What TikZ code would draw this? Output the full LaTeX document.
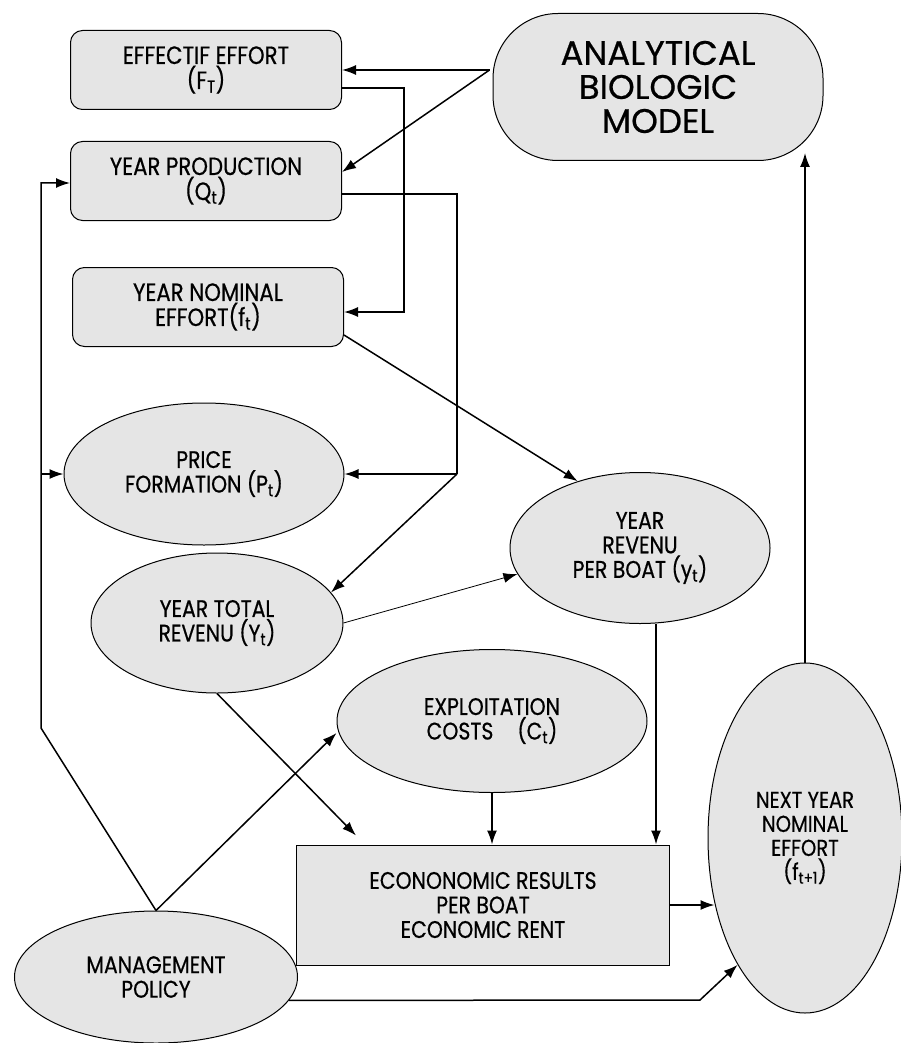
\documentclass[tikz,border=0pt]{standalone}
\usepackage{fontspec}
\setmainfont{Poppins}[FakeStretch=0.85, FakeBold=0.6]
\newfontfamily\modelfont{Poppins}[FakeBold=0.6]
\usetikzlibrary{shapes.geometric,arrows.meta}
\definecolor{boxgray}{gray}{0.9}
\tikzset{
  box/.style={draw, line width=1pt, fill=boxgray, rounded corners=12pt, align=center,
    inner sep=0pt, minimum width=271pt, minimum height=79pt, font=\fontsize{25}{25}\selectfont},
  oval/.style={draw, line width=1pt, fill=boxgray, ellipse, align=center, inner sep=0pt,
    font=\fontsize{24}{24.5}\selectfont},
  link/.style={line width=1.5pt, -{Latex[length=14pt,width=10pt]}},
  thinlink/.style={line width=0.8pt, -{Latex[length=14pt,width=10pt]}}
}
\begin{document}
\begin{tikzpicture}[x=1pt,y=-1pt]
  \useasboundingbox (0,0) rectangle (901,1043);
  % boxes on the left
  \node[box] (effort) at (206,70) {EFFECTIF EFFORT\\(F\textsubscript{T})};
  \node[box] (prod) at (206,181) {YEAR PRODUCTION\\(Q\textsubscript{t})};
  \node[box] (nominal) at (208,307) {YEAR NOMINAL\\EFFORT(f\textsubscript{t})};
  % model
  \node[draw, line width=1pt, fill=boxgray, rounded corners=65pt, minimum width=330pt,
    minimum height=147pt, inner sep=0pt, align=center, font=\modelfont\fontsize{34}{34}\selectfont]
    (model) at (658,87) {ANALYTICAL\\BIOLOGIC\\MODEL};
  % ellipses
  \node[oval, minimum width=280pt, minimum height=142pt] (price) at (204,474) {PRICE\\FORMATION (P\textsubscript{t})};
  \node[oval, minimum width=252pt, minimum height=140pt] (total) at (217,623) {YEAR TOTAL\\REVENU (Y\textsubscript{t})};
  \node[oval, minimum width=260pt, minimum height=151pt] (perboat) at (640,548) {YEAR\\REVENU\\PER BOAT (y\textsubscript{t})};
  \node[oval, minimum width=310pt, minimum height=143pt] (costs) at (492,721) {EXPLOITATION\\COSTS\quad(C\textsubscript{t})};
  \node[draw, line width=1pt, fill=boxgray, minimum width=373pt, minimum height=120pt,
    inner sep=0pt, align=center, font=\fontsize{24}{24.5}\selectfont]
    (results) at (483,905) {ECONONOMIC RESULTS\\PER BOAT\\ECONOMIC RENT};
  \node[oval, minimum width=283pt, minimum height=132pt] (policy) at (156,977) {MANAGEMENT\\POLICY};
  \node[oval, minimum width=194pt, minimum height=350pt, font=\fontsize{23}{24}\selectfont]
    (next) at (805,838) {NEXT YEAR\\NOMINAL\\EFFORT\\(f\textsubscript{t+1})};
  % from the model
  \coordinate (mj) at ([xshift=-3pt,yshift=17pt]model.west);
  \draw[link] (mj) -- (effort.east |- mj);
  \draw[link] (mj) -- ([yshift=9pt]prod.east);
  % effort to nominal
  \draw[link] ([yshift=-18pt]effort.east) -- ++(62pt,0) |- ([yshift=-5pt]nominal.east);
  % production to price and total
  \coordinate (pj) at (457,474);
  \draw[line width=1.5pt] ([yshift=-13pt]prod.east) -| (pj);
  \draw[link] (pj) -- (price.east);
  \draw[link] (pj) -- (total.15);
  % revenues
  \draw[link] ([yshift=-28pt]nominal.east) -- (perboat.133);
  \draw[thinlink] (total.east) -- (perboat.192);
  \draw[link] (total.south) -- ([xshift=60pt,yshift=9pt]results.north west);
  \draw[link] (costs.south) -- (costs.south |- results.north);
  \draw[link] ([xshift=16pt]perboat.south) -- ([xshift=16pt]perboat.south |- results.north);
  \draw[link] (results.east) -- ([xshift=7pt]results.east -| next.west);
  % management policy
  \coordinate (mbend) at (41,728);
  \draw[link] (policy.north) -- (mbend) |- ([yshift=-2pt]prod.west);
  \draw[link] (mbend |- price.west) -- (price.west);
  \draw[link] (policy.north) -- ([yshift=-12pt]costs.west);
  \coordinate (pbend) at (700,1000);
  \draw[link] (policy.-10) -- (pbend) -- (next.242);
  % back to the model
  \draw[link] (next.north) -- ([yshift=8pt]next.north |- model.south);
\end{tikzpicture}
\end{document}
